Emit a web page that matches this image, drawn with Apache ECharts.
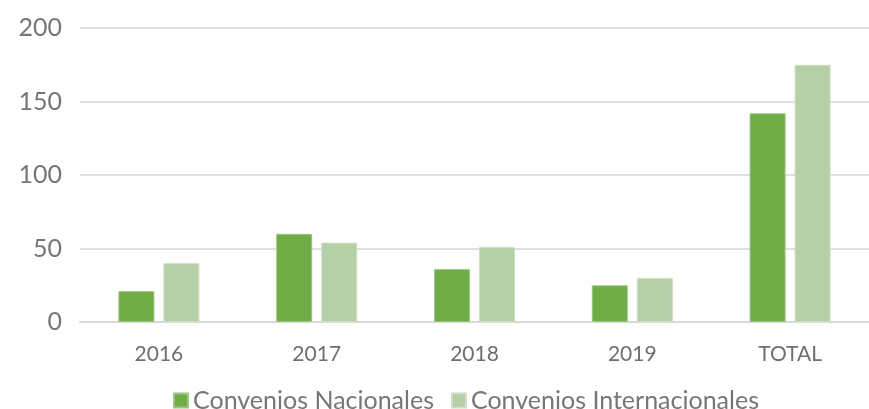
<!DOCTYPE html>
<html>
<head>
<meta charset="utf-8">
<script src="https://cdn.jsdelivr.net/npm/echarts@6/dist/echarts.min.js"></script>
<style>
  html, body { margin: 0; padding: 0; background: #fff; overflow: hidden; }
  #chart { width: 869px; height: 409px; }
</style>
</head>
<body>
<div id="chart"></div>
<script>
var categories = ['2016', '2017', '2018', '2019', 'TOTAL'];
var nacionales = [21, 60, 36, 25, 142];
var internacionales = [40, 54, 51, 30, 175];
var seriesNames = ['Convenios Nacionales', 'Convenios Internacionales'];

var myChart = echarts.init(document.getElementById('chart'));
var option = {
    color: ['#70ad47', '#b5cfa9'],
    animation: false,
    textStyle: { fontFamily: 'Lato' },
    grid: { left: 80, right: -6, top: 28, bottom: 87 },
    legend: {
        data: seriesNames,
        top: 383,
        left: 168,
        itemWidth: 14,
        itemHeight: 14,
        itemGap: 17,
        itemTextGap: 10,
        icon: 'rect',
        textStyle: { fontSize: 25, color: '#767676', fontFamily: 'Lato' }
    },
    xAxis: {
        type: 'category',
        data: categories,
        axisLine: { lineStyle: { color: '#d9d9d9', width: 2 } },
        axisTick: { show: false },
        axisLabel: { fontSize: 21, color: '#6f6f6f', margin: 22, fontFamily: 'Lato' }
    },
    yAxis: {
        type: 'value',
        min: 0,
        max: 200,
        interval: 50,
        axisLine: { show: false },
        axisTick: { show: false },
        axisLabel: { fontSize: 25, color: '#767676', margin: 18, fontFamily: 'Lato' },
        splitLine: { lineStyle: { color: '#e0e0e0', width: 2 } }
    },
    series: [
        {
            name: seriesNames[0],
            type: 'bar',
            data: nacionales,
            barWidth: 36,
            barGap: '25%',
            itemStyle: { borderColor: '#9bc784', borderWidth: 1 }
        },
        {
            name: seriesNames[1],
            type: 'bar',
            data: internacionales,
            barWidth: 36,
            barGap: '25%',
            itemStyle: { borderColor: '#cde0c4', borderWidth: 1 }
        }
    ]
};
myChart.setOption(option);
</script>
</body>
</html>
